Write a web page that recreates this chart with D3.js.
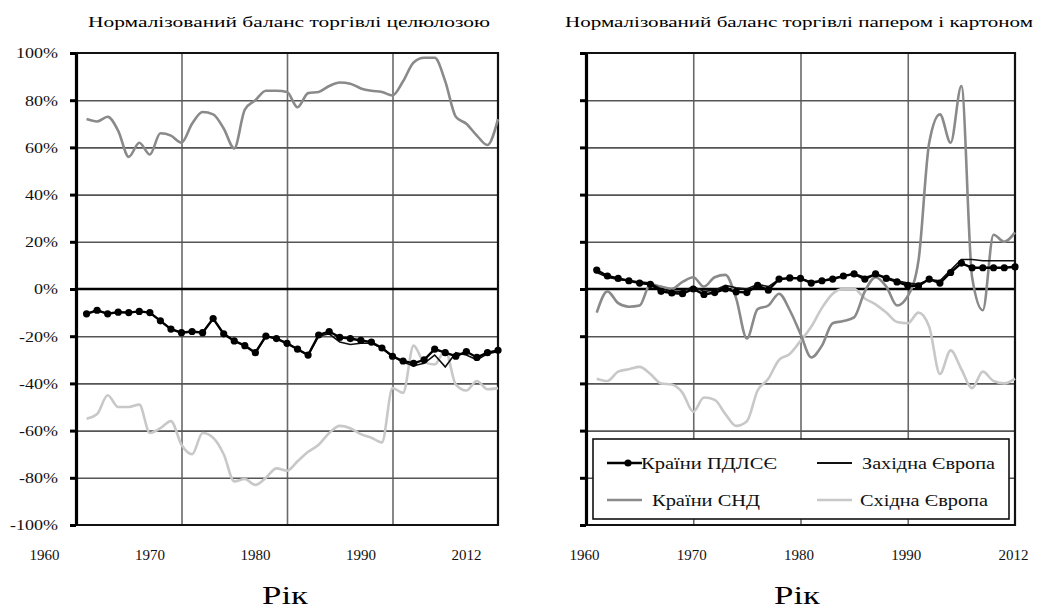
<!DOCTYPE html>
<html>
<head>
<meta charset="utf-8">
<script src="https://cdn.jsdelivr.net/npm/d3@7"></script>
<style>
  body { margin: 0; background: #fff; }
  svg, svg text { font-family: "Liberation Serif", "Times New Roman", serif; }
  svg { display: block; }
</style>
</head>
<body>
<script>
// years on the grid (one point per year)
const years = [1961, 1962, 1963, 1964, 1965, 1966, 1967, 1968, 1969, 1970,
  1971, 1972, 1973, 1974, 1975, 1976, 1977, 1978, 1979, 1980,
  1981, 1982, 1983, 1984, 1985, 1986, 1987, 1988, 1989, 1990,
  1991, 1992, 1993, 1994, 1995, 1996, 1997, 1998, 1999, 2000];

const xTickPos = [1960, 1970, 1980, 1990, 2000];
const xTickLabels = ['1960', '1970', '1980', '1990', '2012'];
const yTicks = [-100, -80, -60, -40, -20, 0, 20, 40, 60, 80, 100];

const titles = ['Нормалізований баланс торгівлі целюлозою', 'Нормалізований баланс торгівлі папером і картоном'];
const seriesNames = ['Країни ПДЛСЄ', 'Західна Європа', 'Країни СНД', 'Східна Європа'];

// pulp, %
const pulpPdlse = [-10.5, -9, -10.5, -9.8, -10, -9.5, -10, -13.5, -17, -18.5,
  -18, -18.5, -12.5, -19, -22, -24, -27, -20, -21, -23,
  -25.5, -28, -19.5, -18, -20.5, -21, -21.8, -22.5, -25, -28.5,
  -30.5, -31.5, -30, -25.5, -27, -28.5, -26.5, -29, -27, -26];
const pulpWest = [-10.5, -9, -10.5, -9.8, -10, -9.5, -10, -13.5, -17, -18.5,
  -18, -18.5, -12.5, -19, -22, -24, -27, -20, -21, -23,
  -25.5, -28, -20, -19, -22.5, -23.5, -23, -23, -25, -28.5,
  -31, -32.5, -31.5, -28, -33, -27, -28, -30, -27.5, -26.5];
const pulpCis = [72, 71, 73, 67, 56, 62, 57, 66, 65, 62,
  70, 75, 74, 68, 59.6, 76, 80, 84, 84, 83.5,
  77, 83, 83.5, 86, 87.5, 87, 85, 84, 83.5, 82,
  88, 96, 98, 98, 88, 73, 70, 65, 61, 72];
const pulpEast = [-55, -53, -45, -50, -50, -49, -61, -59, -56, -66,
  -70, -61, -63, -70, -81.5, -80.5, -83, -80, -76, -77,
  -73, -69, -66, -61, -58, -59, -61.5, -63, -65, -42,
  -44, -24, -31, -32, -26, -40.5, -43, -39, -42.5, -42];

// paper and board, %
const paperPdlse = [8, 5.5, 4.5, 3.5, 2.5, 2, -1, -1.7, -2, 0,
  -2.3, -1.5, 0, -1.2, -1.5, 1.5, -0.5, 4.2, 4.7, 4.5,
  2.5, 3.5, 4.2, 5.5, 6.4, 4.2, 6.4, 4.5, 3, 1.5,
  1.3, 4.2, 2.5, 7, 11, 9, 9, 9, 9, 9.4];
const paperWest = [7, 5, 4, 3.5, 3, 2.5, 0, -1, -1, 1,
  -1, -0.5, 1.5, 0.5, 0, 2, 1, 4, 4.5, 4.5,
  3, 3.5, 4.5, 5.5, 6.5, 5, 6, 5, 3.5, 2.5,
  2, 4, 3.5, 8, 12.5, 12.5, 12, 12, 12, 12];
const paperCis = [-10, -1, -6, -7.5, -7, 2, 1, 0, 3, 5,
  1, 5, 6, -4, -21, -8.5, -7, -2, -9, -19,
  -29, -24, -14.5, -13.6, -12, -1, 5, 1, -7, -3,
  12, 62, 74, 62, 86, 5, -9, 23, 20, 24];
const paperEast = [-38, -39, -35, -34, -33, -36, -40, -40.5, -44, -52,
  -46, -47, -53, -58, -56, -43, -38, -30, -27.5, -22,
  -16, -8, -2, 0, 0, -4, -6.5, -10, -14, -14.5,
  -10, -16, -36, -26, -34, -42, -35, -39, -40, -38];

const colors = { pdlse: '#000', west: '#111', cis: '#8a8a8a', east: '#c8c8c8' };
const serif = '"Liberation Serif", "Times New Roman", serif';

const svg = d3.select('body').append('svg')
    .attr('width', 1052)
    .attr('height', 612);

const plotTop = 53, plotBottom = 525;
const y = d3.scaleLinear().domain([-100, 100]).range([plotBottom, plotTop]);

function drawPanel(p) {
  const x = d3.scaleLinear().domain([1960, 2000]).range([p.x0, p.x1]);
  const g = svg.append('g');

  // grid
  g.append('g')
      .attr('transform', `translate(0,${plotBottom})`)
      .call(d3.axisBottom(x).tickValues([1970, 1980, 1990]).tickSize(-(plotBottom - plotTop)).tickFormat(''))
      .call(s => s.select('.domain').remove())
      .selectAll('line').attr('stroke', '#6a6a6a').attr('stroke-width', 1.6);

  g.append('g')
      .attr('transform', `translate(${p.x0},0)`)
      .call(d3.axisLeft(y).tickValues([-80, -60, -40, -20, 20, 40, 60, 80]).tickSize(-(p.x1 - p.x0)).tickFormat(''))
      .call(s => s.select('.domain').remove())
      .selectAll('line').attr('stroke', '#555').attr('stroke-width', 1.6);

  // zero line and frame
  g.append('line')
      .attr('x1', p.x0).attr('x2', p.x1).attr('y1', y(0)).attr('y2', y(0))
      .attr('stroke', '#000').attr('stroke-width', 2.5);
  g.append('path')
      .attr('d', `M${p.x0},${plotTop}H${p.x1}V${plotBottom}H${p.x0}`)
      .attr('fill', 'none').attr('stroke', '#111').attr('stroke-width', 2.2);

  // lines
  const line = d3.line()
      .x((d, i) => x(years[i]))
      .y(d => y(d));

  g.append('path').datum(p.east)
      .attr('d', line.curve(d3.curveMonotoneX))
      .attr('fill', 'none').attr('stroke', colors.east).attr('stroke-width', 2.6);
  g.append('path').datum(p.cis)
      .attr('d', line.curve(d3.curveMonotoneX))
      .attr('fill', 'none').attr('stroke', colors.cis).attr('stroke-width', 2.6);
  g.append('path').datum(p.west)
      .attr('d', line.curve(d3.curveLinear))
      .attr('fill', 'none').attr('stroke', colors.west).attr('stroke-width', 1.6);
  g.append('path').datum(p.pdlse)
      .attr('d', line.curve(d3.curveLinear))
      .attr('fill', 'none').attr('stroke', colors.pdlse).attr('stroke-width', 2.4);
  g.selectAll('.dot')
    .data(p.pdlse)
    .enter().append('circle')
      .attr('class', 'dot')
      .attr('cx', (d, i) => x(years[i]))
      .attr('cy', d => y(d))
      .attr('r', 3.6)
      .attr('fill', '#000');

  // y axis
  const yAxis = g.append('g')
      .attr('transform', `translate(${p.x0},0)`)
      .call(d3.axisLeft(y).tickValues(yTicks).tickSize(6).tickSizeOuter(0).tickPadding(9)
        .tickFormat(d => p.yLabels ? d + '%' : ''))
      .attr('font-family', serif);
  yAxis.select('.domain').attr('stroke', '#000').attr('stroke-width', 3.2);
  yAxis.selectAll('.tick line').attr('stroke', '#000').attr('stroke-width', 3);
  yAxis.selectAll('.tick text')
      .attr('fill', '#111')
      .style('font-family', serif)
      .style('font-size', '15px')
      .attr('transform', 'scale(1.2,1)');

  // x axis labels
  const xAxis = g.append('g')
      .attr('transform', `translate(0,${plotBottom})`)
      .call(d3.axisBottom(x).tickValues(xTickPos).tickSize(0).tickPadding(24)
        .tickFormat((d, i) => xTickLabels[i]))
      .attr('font-family', serif);
  xAxis.select('.domain').remove();
  xAxis.selectAll('.tick text')
      .attr('fill', '#111')
      .attr('x', p.labelShift)
      .style('font-family', serif)
      .style('font-size', '15px');

  // titles
  g.append('text')
      .attr('x', p.titleX).attr('y', 27)
      .attr('text-anchor', 'middle')
      .attr('textLength', p.titleLen).attr('lengthAdjust', 'spacingAndGlyphs')
      .style('font-family', serif)
      .style('font-size', '15px')
      .text(p.title);
  g.append('text')
      .attr('x', p.rikX).attr('y', 604)
      .attr('text-anchor', 'middle')
      .attr('textLength', 46).attr('lengthAdjust', 'spacingAndGlyphs')
      .style('font-family', serif)
      .style('font-size', '26px')
      .text('Рік');

  return x;
}

drawPanel({ x0: 76, x1: 498, yLabels: true, labelShift: -32, rikX: 285,
  title: titles[0], titleX: 289, titleLen: 402,
  pdlse: pulpPdlse, west: pulpWest, cis: pulpCis, east: pulpEast });

drawPanel({ x0: 586, x1: 1015, yLabels: false, labelShift: -2, rikX: 797,
  title: titles[1], titleX: 799, titleLen: 468,
  pdlse: paperPdlse, west: paperWest, cis: paperCis, east: paperEast });

// legend
const legend = svg.append('g');
legend.append('rect')
    .attr('x', 593).attr('y', 439).attr('width', 416).attr('height', 80)
    .attr('fill', '#fff').attr('stroke', '#111').attr('stroke-width', 1.6);

const legendItems = [
  { name: seriesNames[0], key: 'pdlse', lx: 607, ly: 463, tx: 641, tl: 136, w: 2.4, dot: true },
  { name: seriesNames[1], key: 'west', lx: 817, ly: 463, tx: 862, tl: 133, w: 1.8 },
  { name: seriesNames[2], key: 'cis', lx: 607, ly: 500, tx: 652, tl: 108, w: 2.6 },
  { name: seriesNames[3], key: 'east', lx: 817, ly: 500, tx: 860, tl: 128, w: 2.6 }
];

const li = legend.selectAll('.item').data(legendItems).enter().append('g').attr('class', 'item');
li.append('line')
    .attr('x1', d => d.lx).attr('x2', d => d.lx + 35)
    .attr('y1', d => d.ly).attr('y2', d => d.ly)
    .attr('stroke', d => colors[d.key]).attr('stroke-width', d => d.w);
li.filter(d => d.dot).append('circle')
    .attr('cx', d => d.lx + 21).attr('cy', d => d.ly).attr('r', 3.6).attr('fill', '#000');
li.append('text')
    .attr('x', d => d.tx).attr('y', d => d.ly + 6)
    .attr('textLength', d => d.tl).attr('lengthAdjust', 'spacingAndGlyphs')
    .style('font-family', serif)
    .style('font-size', '17px')
    .attr('fill', '#111')
    .text(d => d.name);
</script>
</body>
</html>
